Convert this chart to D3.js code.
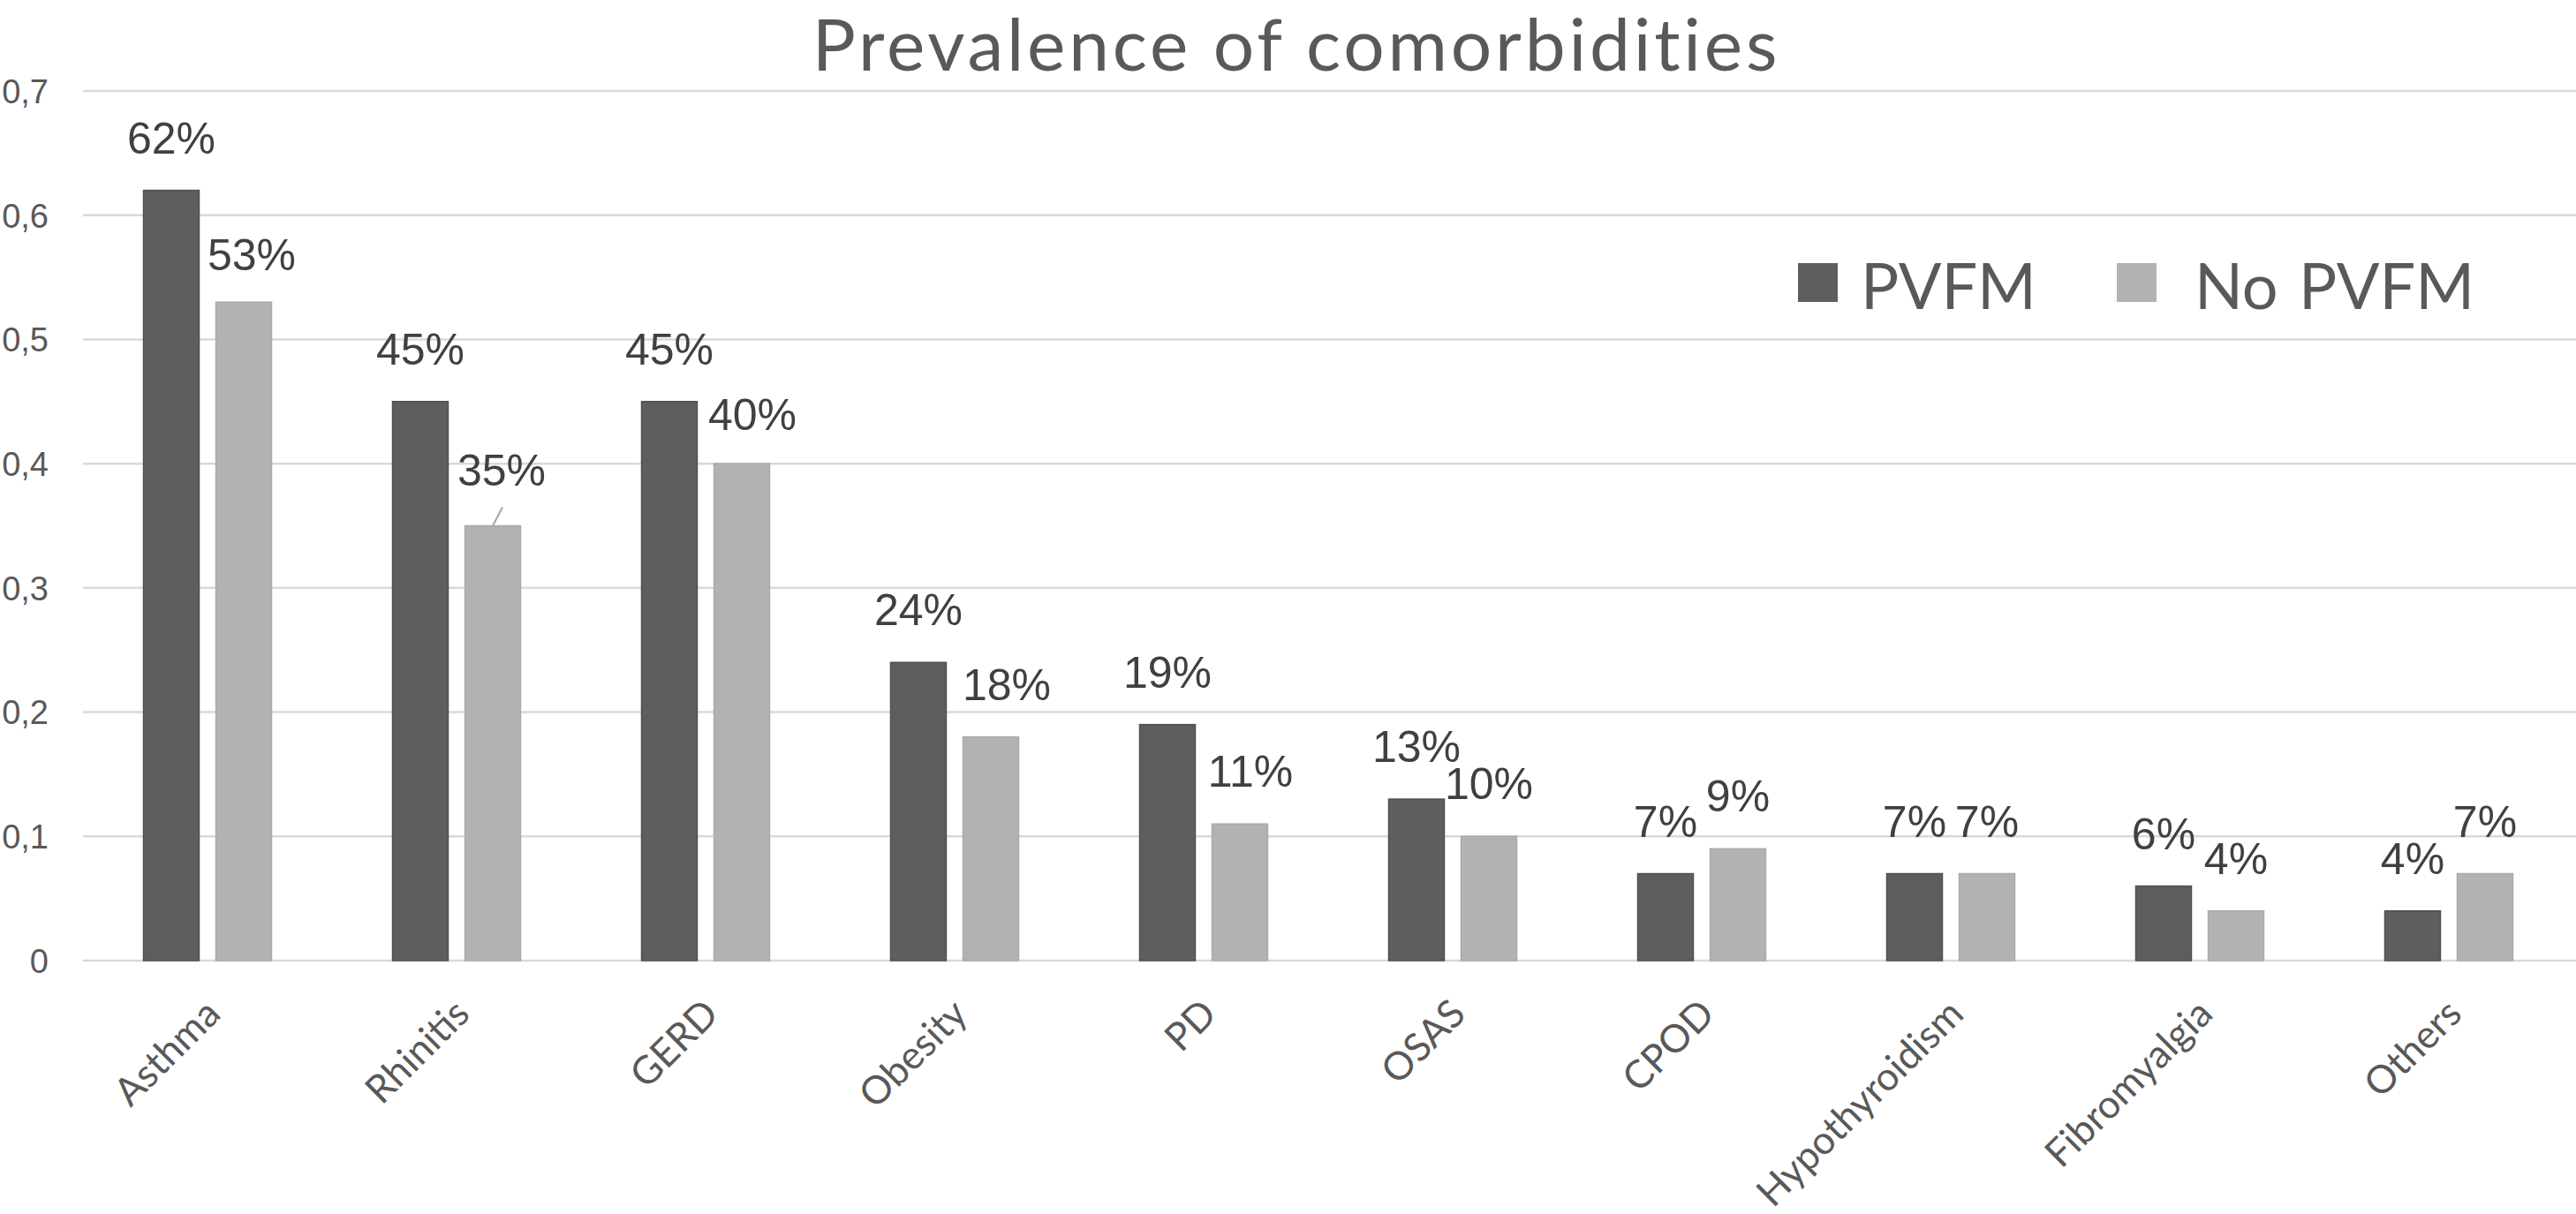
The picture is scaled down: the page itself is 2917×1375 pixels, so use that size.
<!DOCTYPE html>
<html>
<head>
<meta charset="utf-8">
<script src="https://cdn.jsdelivr.net/npm/d3@7/dist/d3.min.js"></script>
<style>
  html, body { margin: 0; padding: 0; background: #ffffff; }
  svg { display: block; }
</style>
</head>
<body>
<svg id="chart" width="2917" height="1375"></svg>
<script>
// ---- data ----
const categories = ["Asthma", "Rhinitis", "GERD", "Obesity", "PD", "OSAS", "CPOD", "Hypothyroidism", "Fibromyalgia", "Others"];
const seriesNames = ["PVFM", "No PVFM"];
const pvfmValues = [0.62, 0.45, 0.45, 0.24, 0.19, 0.13, 0.07, 0.07, 0.06, 0.04];
const noPvfmValues = [0.53, 0.35, 0.40, 0.18, 0.11, 0.10, 0.09, 0.07, 0.04, 0.07];
const yTickValues = [0, 0.1, 0.2, 0.3, 0.4, 0.5, 0.6, 0.7];
const titleText = "Prevalence of comorbidities";

// ---- layout / style ----
const W = 2917, H = 1375;
const plotLeft = 94, plotRight = 2914, plotTop = 103, plotBottom = 1088;
const colors = { "PVFM": "#5e5e5e", "No PVFM": "#b2b2b2" };
const strokes = { "PVFM": "#505050", "No PVFM": "#aaaaaa" };
const textGray = "#595959";
const labelDark = "#404040";

const svg = d3.select("#chart");

const x = d3.scaleBand().domain(categories).range([plotLeft, plotRight]).paddingInner(0).paddingOuter(0);
const groupW = 145;
const x1 = d3.scaleBand().domain(seriesNames).range([0, groupW]).paddingInner(0.232).paddingOuter(0);
const y = d3.scaleLinear().domain([0, 0.7]).range([plotBottom, plotTop]);

const seriesValues = { "PVFM": pvfmValues, "No PVFM": noPvfmValues };
const rows = [];
seriesNames.forEach(s => categories.forEach((c, i) => rows.push({ series: s, cat: c, value: seriesValues[s][i] })));

const barX = d => x(d.cat) + (x.bandwidth() - groupW) / 2 + x1(d.series);

// gridlines
svg.append("g").selectAll("line").data(yTickValues).join("line")
  .attr("x1", plotLeft).attr("x2", W)
  .attr("y1", d => y(d)).attr("y2", d => y(d))
  .attr("stroke", "#d9d9d9").attr("stroke-width", 2.5);

// y axis labels
const yAxis = d3.axisLeft(y).tickValues(yTickValues).tickSize(0).tickPadding(0)
  .tickFormat(d => d === 0 ? "0" : d3.format(".1f")(d).replace(".", ","));
const gy = svg.append("g").attr("transform", "translate(55,0)").call(yAxis);
gy.select(".domain").remove();
gy.selectAll("text").attr("font-family", "'Liberation Sans', Arial, sans-serif")
  .attr("font-size", 38).attr("fill", textGray).attr("dy", "0.35em");

// bars
svg.append("g").selectAll("rect").data(rows).join("rect")
  .attr("x", barX)
  .attr("y", d => y(d.value))
  .attr("width", x1.bandwidth())
  .attr("height", d => y(0) - y(d.value))
  .attr("fill", d => colors[d.series])
  .attr("stroke", d => strokes[d.series])
  .attr("stroke-width", 1.5);

// value labels (a few were moved by hand in the original)
const labelNudge = {
  "No PVFM|Asthma": { dx: 9, dy: 6 },
  "No PVFM|Rhinitis": { dx: 10, dy: -4, leader: true },
  "No PVFM|GERD": { dx: 12, dy: 4 },
  "No PVFM|Obesity": { dx: 18, dy: 0 },
  "No PVFM|PD": { dx: 12, dy: 0 }
};
const fmt = d3.format(".0%");
const labels = svg.append("g");
rows.forEach(d => {
  const n = labelNudge[d.series + "|" + d.cat] || { dx: 0, dy: 0 };
  const cx = barX(d) + x1.bandwidth() / 2;
  const by = y(d.value) - 42 + n.dy;
  labels.append("text")
    .attr("x", cx + n.dx).attr("y", by)
    .attr("text-anchor", "middle")
    .attr("font-family", "'Liberation Sans', Arial, sans-serif")
    .attr("font-size", 50)
    .attr("fill", labelDark)
    .text(fmt(d.value));
  if (n.leader) {
    labels.append("line")
      .attr("x1", cx + n.dx + 1).attr("y1", by + 25)
      .attr("x2", cx).attr("y2", y(d.value))
      .attr("stroke", "#a6a6a6").attr("stroke-width", 2);
  }
});

// x axis category labels
const xAxis = d3.axisBottom(x).tickSize(0).tickPadding(0);
const gx = svg.append("g").attr("transform", `translate(0,${plotBottom})`).call(xAxis);
gx.select(".domain").remove();
gx.selectAll(".tick text")
  .attr("font-family", "Lato, 'Open Sans', sans-serif")
  .attr("font-size", 44)
  .attr("fill", textGray)
  .attr("text-anchor", "end")
  .attr("y", 0).attr("dy", "0.35em")
  .attr("transform", "translate(6,52) rotate(-45)");

// title
svg.append("text")
  .attr("x", 1468).attr("y", 80)
  .attr("text-anchor", "middle")
  .attr("font-family", "Lato, 'Open Sans', sans-serif")
  .attr("font-size", 82)
  .attr("letter-spacing", 3.8)
  .attr("fill", textGray)
  .text(titleText);

// legend
const legendItems = [
  { name: "PVFM", sx: 2036, tx: 2107 },
  { name: "No PVFM", sx: 2397, tx: 2485 }
];
const lg = svg.append("g");
legendItems.forEach(it => {
  lg.append("rect").attr("x", it.sx).attr("y", 298).attr("width", 45).attr("height", 44)
    .attr("fill", colors[it.name]);
  lg.append("text").attr("x", it.tx).attr("y", 350)
    .attr("font-family", "Lato, 'Open Sans', sans-serif")
    .attr("font-size", 72)
    .attr("word-spacing", 5)
    .attr("fill", textGray)
    .text(it.name);
});
</script>
</body>
</html>
